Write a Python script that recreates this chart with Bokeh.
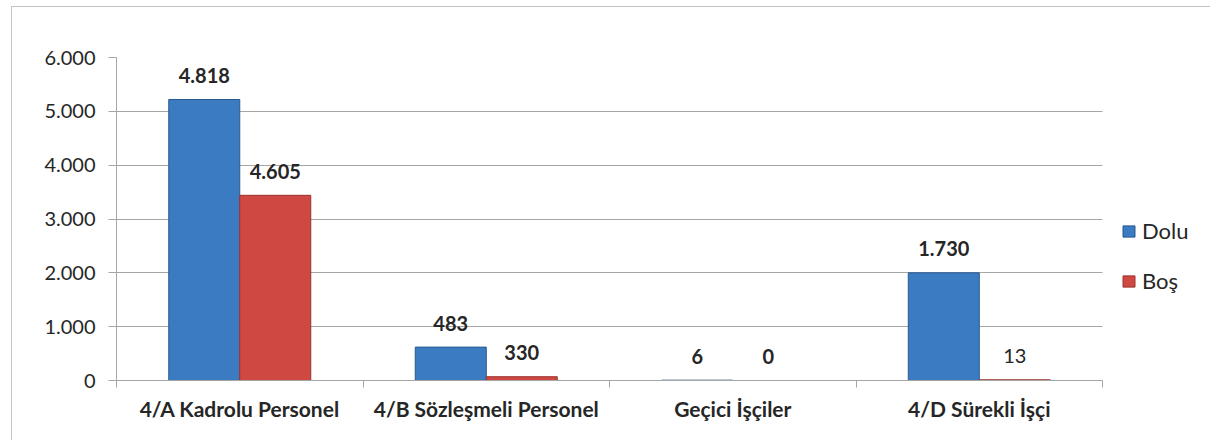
from bokeh.plotting import figure
from bokeh.models import (Range1d, LinearAxis, FixedTicker,
                          ColumnDataSource, Legend, LegendItem)
from bokeh.transform import dodge
from bokeh.core.properties import value
from bokeh.embed import file_html
from bokeh.resources import INLINE

# ---- data ----
categories = ["4/A Kadrolu Personel", "4/B Sözleşmeli Personel", "Geçici İşçiler", "4/D Sürekli İşçi"]
series_names = ["Dolu", "Boş"]
dolu_bars = [5220, 620, 6, 2000]      # bar heights as drawn in the picture
bos_bars = [3440, 70, 0, 13]
dolu_labels = ["4.818", "483", "6", "1.730"]
bos_labels = ["4.605", "330", "0", "13"]
bos_label_styles = ["bold", "bold", "bold", "normal"]
y_ticks = [0, 1000, 2000, 3000, 4000, 5000, 6000]
y_tick_labels = ["0", "1.000", "2.000", "3.000", "4.000", "5.000", "6.000"]

FONT = "Lato"
GRID = "#a6a6a6"
TXT = "#262626"
DOLU_FILL, DOLU_LINE = "#3b7bc2", "#29598f"
BOS_FILL, BOS_LINE = "#d04842", "#9c302c"

n = len(categories)
centers = [i + 0.5 for i in range(n)]
src = ColumnDataSource(dict(x=centers, dolu=dolu_bars, bos=bos_bars,
                            dl=dolu_labels, bl=bos_labels, bs=bos_label_styles,
                            ds=["bold"] * n))

# frame extends to the right edge so the legend can sit inside it; lines are bounded to [0, n]
p = figure(width=1199, height=434, output_backend="svg", toolbar_location=None,
           x_range=Range1d(0, n + 0.442), y_range=Range1d(0, 6000), x_axis_location=None,
           min_border_left=104, min_border_right=0, min_border_top=50, min_border_bottom=61)
p.styles = {"margin-left": "11px", "margin-top": "6px",
            "border-left": "1px solid #c4c4c4", "border-top": "1px solid #c4c4c4"}
p.outline_line_color = None
p.background_fill_color = "white"
p.border_fill_color = "white"

# y axis
ya = p.yaxis[0]
ya.ticker = FixedTicker(ticks=y_ticks)
ya.major_label_overrides = {t: l for t, l in zip(y_ticks, y_tick_labels)}
ya.axis_line_color = GRID
ya.major_tick_line_color = GRID
ya.major_tick_out = 8
ya.major_tick_in = 0
ya.minor_tick_line_color = None
ya.major_label_text_font = FONT
ya.major_label_text_font_size = "20px"
ya.major_label_text_color = TXT
ya.major_label_standoff = 13

p.ygrid.ticker = FixedTicker(ticks=y_ticks)
p.ygrid.grid_line_color = GRID
p.ygrid.grid_line_width = 1
p.ygrid.cross_bounds = (0, n)
p.xgrid.grid_line_color = None

# x axis: ticks at category boundaries, labels at centres
tick_axis = LinearAxis(ticker=FixedTicker(ticks=list(range(n + 1))), bounds=(0, n),
                       major_label_text_font_size="0px", major_label_standoff=0,
                       axis_line_color=GRID, major_tick_line_color=GRID,
                       major_tick_out=7, major_tick_in=0, minor_tick_line_color=None)
tick_axis.major_label_overrides = {i: "" for i in range(n + 1)}
p.add_layout(tick_axis, "below")
cat_axis = LinearAxis(ticker=FixedTicker(ticks=centers),
                      axis_line_color=None, major_tick_line_color=None,
                      minor_tick_line_color=None,
                      major_label_text_font=FONT, major_label_text_font_size="21px",
                      major_label_text_font_style="bold", major_label_text_color=TXT,
                      major_label_standoff=2)
cat_axis.major_label_overrides = {c: name for c, name in zip(centers, categories)}
p.add_layout(cat_axis, "below")

# bars
r1 = p.vbar(x=dodge("x", -0.144), top="dolu", width=0.288, source=src,
            fill_color=DOLU_FILL, line_color=DOLU_LINE, line_width=1)
r2 = p.vbar(x=dodge("x", 0.144), top="bos", width=0.288, source=src,
            fill_color=BOS_FILL, line_color=BOS_LINE, line_width=1)

# data labels
p.text(x=dodge("x", -0.144), y="dolu", text="dl", source=src,
       y_offset=-24, text_align="center", text_baseline="middle",
       text_font=value(FONT), text_font_size="20px", text_font_style="ds", text_color=TXT)
p.text(x=dodge("x", 0.144), y="bos", text="bl", source=src,
       y_offset=-24, text_align="center", text_baseline="middle",
       text_font=value(FONT), text_font_size="20px", text_font_style="bs", text_color=TXT)

# legend
legend = Legend(items=[LegendItem(label=series_names[0], renderers=[r1]),
                       LegendItem(label=series_names[1], renderers=[r2])],
                location=(1005, 86), orientation="vertical",
                glyph_width=15, glyph_height=14, label_height=24, spacing=23,
                label_standoff=6, padding=0, margin=0,
                label_text_font=FONT, label_text_font_size="22px", label_text_color=TXT,
                border_line_color=None, background_fill_alpha=0)
p.add_layout(legend, "center")

open("out.html", "w").write(file_html(p, INLINE))
